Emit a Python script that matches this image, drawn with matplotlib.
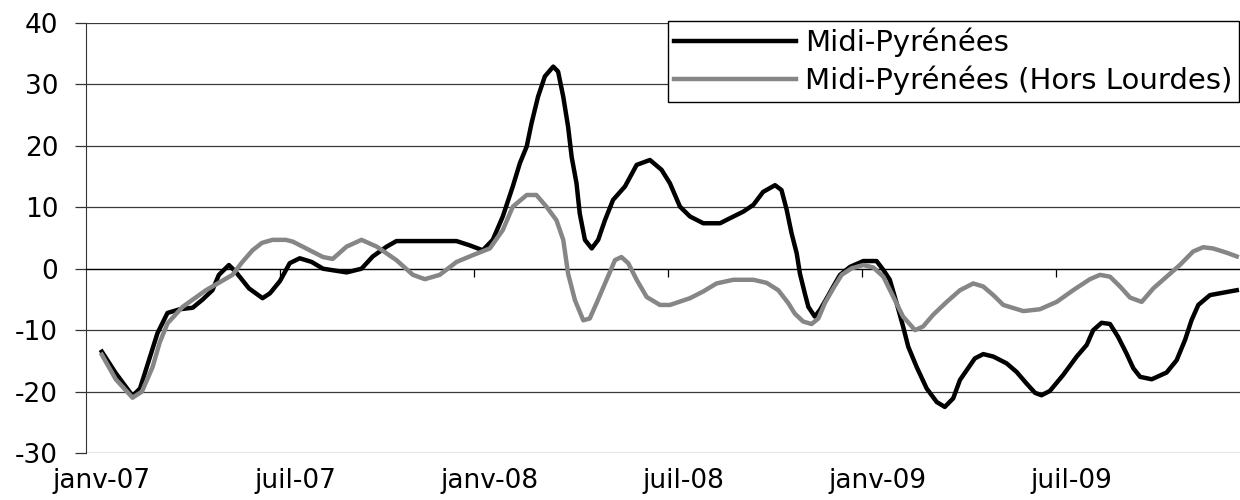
import matplotlib.pyplot as plt

# mois depuis janvier 2007
mois_mp = [0.0, 0.43, 0.95, 1.18, 1.42, 1.72, 2.03, 2.41, 2.81, 3.12, 3.42, 3.62, 3.93, 4.14,
           4.55, 4.97, 5.20, 5.51, 5.81, 6.12, 6.49, 6.84, 7.57, 8.03, 8.38, 8.81, 9.11, 10.97,
           11.38, 11.78, 12.09, 12.40, 12.71, 12.93, 13.14, 13.29, 13.49, 13.70, 13.96, 14.11,
           14.27, 14.42, 14.53, 14.68, 14.78, 14.94, 15.15, 15.35, 15.56, 15.81, 16.18, 16.54,
           16.95, 17.31, 17.57, 17.88, 18.19, 18.60, 19.12, 19.42, 19.84, 20.15, 20.45, 20.82,
           21.02, 21.18, 21.33, 21.49, 21.59, 21.74, 21.85, 22.05, 22.21, 22.42, 22.62, 22.83,
           23.14, 23.55, 23.96, 24.17, 24.37, 24.58, 24.78, 24.94, 25.20, 25.51, 25.82, 26.07,
           26.33, 26.54, 26.75, 27.00, 27.26, 27.57, 27.98, 28.29, 28.60, 28.86, 29.06, 29.32,
           29.73, 30.15, 30.46, 30.66, 30.92, 31.18, 31.43, 31.69, 31.90, 32.11, 32.47, 32.93,
           33.24, 33.50, 33.70, 33.91, 34.27, 34.68, 35.10]
midi_pyrenees = [-13.5, -17, -20.7, -19.5, -15.5, -10.5, -7.2, -6.6, -6.35, -5, -3.5, -1, 0.6, -0.5,
                 -3.2, -4.8, -4, -2.0, 0.9, 1.7, 1.1, 0, -0.6, 0, 2, 3.6, 4.5, 4.5,
                 3.8, 3.0, 4.7, 8.5, 13.4, 17.2, 19.9, 23.7, 28, 31.3, 32.9, 32.1,
                 28, 23.1, 18.2, 13.9, 9, 4.7, 3.3, 4.7, 7.9, 11.2, 13.4, 16.9,
                 17.7, 16.1, 13.9, 10.1, 8.5, 7.4, 7.4, 8.2, 9.3, 10.4, 12.5, 13.6,
                 12.8, 9.6, 5.8, 2.5, -0.8, -4, -6.2, -7.8, -6.7, -4.8, -2.9, -1,
                 0.3, 1.25, 1.25, -0.2, -1.8, -5.6, -9.4, -12.7, -16, -19.5, -21.7, -22.5,
                 -21.1, -18.1, -16.5, -14.6, -13.9, -14.3, -15.4, -16.8, -18.7, -20.2, -20.6, -19.9,
                 -17.3, -14.3, -12.4, -10, -8.8, -9, -11.1, -13.8, -16.2, -17.6, -18, -16.9,
                 -14.9, -11.6, -8.4, -5.9, -4.3, -3.9, -3.5]

mois_hl = [0.0, 0.43, 0.95, 1.24, 1.57, 1.79, 2.03, 2.50, 3.22, 4.04, 4.33, 4.66, 4.95, 5.28,
           5.69, 5.91, 6.43, 6.84, 7.14, 7.57, 8.03, 8.50, 9.11, 9.62, 9.99, 10.45, 10.97, 11.47,
           12.00, 12.40, 12.71, 13.14, 13.44, 13.75, 14.06, 14.27, 14.42, 14.63, 14.89, 15.09,
           15.30, 15.61, 15.87, 16.07, 16.28, 16.54, 16.85, 17.26, 17.57, 18.19, 18.60, 19.01,
           19.53, 20.15, 20.56, 20.92, 21.23, 21.43, 21.69, 21.95, 22.16, 22.36, 22.62, 22.88,
           23.19, 23.55, 23.86, 24.17, 24.48, 24.78, 25.15, 25.40, 25.71, 26.13, 26.54, 26.95,
           27.26, 27.57, 27.88, 28.50, 29.01, 29.53, 30.04, 30.56, 30.87, 31.18, 31.49, 31.80,
           32.16, 32.52, 32.93, 33.34, 33.75, 34.06, 34.37, 34.79, 35.10]
hors_lourdes = [-14, -18, -21, -20, -16, -12, -8.9, -6.2, -3.5, -1, 1, 3, 4.2, 4.7,
                4.7, 4.4, 3, 1.9, 1.6, 3.6, 4.7, 3.6, 1.4, -1, -1.7, -1, 1.1, 2.2,
                3.3, 6.3, 10.1, 12, 12, 10.1, 7.9, 4.7, -0.8, -5.1, -8.4, -8.1,
                -5.6, -1.8, 1.4, 1.9, 0.9, -1.8, -4.6, -5.9, -5.9, -4.8, -3.7, -2.4,
                -1.8, -1.8, -2.3, -3.5, -5.6, -7.3, -8.6, -9, -8.1, -5.6, -3.2, -1,
                0.07, 0.6, 0.2, -1.3, -4.6, -7.8, -10, -9.4, -7.5, -5.4, -3.5, -2.4,
                -2.9, -4.3, -5.9, -6.9, -6.6, -5.4, -3.5, -1.7, -1, -1.3, -2.9, -4.7,
                -5.4, -3.2, -1.3, 0.6, 2.8, 3.5, 3.3, 2.6, 2.0]

pos_etiquettes = [0, 6, 12, 18, 24, 30]
etiquettes = ['janv-07', 'juil-07', 'janv-08', 'juil-08', 'janv-09', 'juil-09']

plt.rcParams['font.family'] = 'DejaVu Sans'
plt.rcParams['font.size'] = 19
plt.rcParams['axes.unicode_minus'] = False

fig = plt.figure(figsize=(12.4, 5), dpi=100)
ax = fig.add_axes([86/1240, 47/500, 1 - 86/1240, 430/500])

ax.plot(mois_mp, midi_pyrenees, color='black', lw=3.2, solid_joinstyle='round',
        label='Midi-Pyrénées', zorder=3)
ax.plot(mois_hl, hors_lourdes, color='#868686', lw=3.2, solid_joinstyle='round',
        label='Midi-Pyrénées (Hors Lourdes)', zorder=4)

ax.set_xlim(-0.49, 35.2)
ax.set_ylim(-30, 40)
ax.set_yticks(range(-30, 41, 10))
ax.yaxis.grid(True, color='#3a3a3a', lw=0.9)
ax.set_axisbelow(True)
ax.tick_params(axis='y', direction='out', length=8, width=0.9, pad=12, color='#333333')

for s in ['top', 'right']:
    ax.spines[s].set_visible(False)
ax.spines['left'].set_color('#333333')
ax.spines['bottom'].set_position(('data', 0))
ax.spines['bottom'].set_color('black')
ax.spines['bottom'].set_linewidth(0.9)
ax.set_xticks([])
ax.set_xticks([-0.49 + 6 * k for k in range(1, 6)], minor=True)
ax.tick_params(axis='x', which='minor', direction='out', length=6, width=0.9, labelbottom=False)

sec = ax.secondary_xaxis('bottom')
sec.set_xticks(pos_etiquettes, etiquettes)
sec.tick_params(length=0, pad=11)
sec.spines['bottom'].set_visible(False)

leg = ax.legend(loc='upper right', bbox_to_anchor=(1239/1240, 479/500), bbox_transform=fig.transFigure,
                borderaxespad=0, fancybox=False, edgecolor='black', framealpha=1, fontsize=21,
                handlelength=4.2, handletextpad=0.3, labelspacing=0.3, borderpad=0.22)
leg.get_frame().set_linewidth(1)

plt.savefig('out.png', dpi=100)
